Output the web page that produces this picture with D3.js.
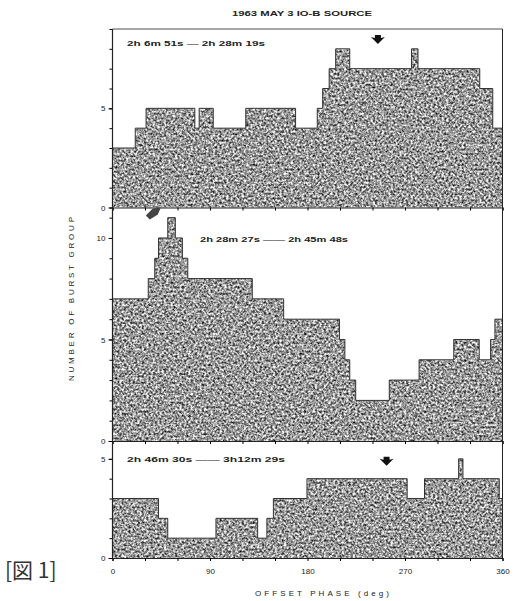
<!DOCTYPE html>
<html>
<head>
<meta charset="utf-8">
<script src="https://cdn.jsdelivr.net/npm/d3@7/dist/d3.min.js"></script>
<style>
  html, body { margin: 0; padding: 0; background: #fff; }
  svg { display: block; font-family: "Liberation Sans", "DejaVu Sans", sans-serif; }
</style>
</head>
<body>
<div id="chart"></div>
<script>
// phase bins (deg) and burst-group counts
const topEdges  = [0, 21, 31, 76, 80, 93, 123, 169, 189, 194, 200, 206, 219, 276, 282, 339, 351, 360];
const topCounts = [3, 4, 5, 4, 5, 4, 5, 4, 5, 6, 7, 8, 7, 8, 7, 6, 4];

const midEdges  = [0, 33, 39, 42.5, 51, 58, 64.5, 69.5, 129, 158, 209.5, 214.5, 219, 224.5, 255.5, 283, 315, 338.5, 349, 353, 360];
const midCounts = [7, 8, 9, 10, 11, 10, 9, 8, 7, 6, 5, 4, 3, 2, 3, 4, 5, 4, 5, 6];

const botEdges  = [0, 42.5, 51, 95.5, 134, 142.5, 148.5, 179.5, 272, 288, 319.5, 323.5, 357, 360];
const botCounts = [3, 2, 1, 2, 1, 2, 3, 4, 3, 4, 5, 4, 3];

const timeLabels = ["2h 6m 51s — 2h 28m 19s", "2h 28m 27s —— 2h 45m 48s", "2h 46m 30s —— 3h12m 29s"];
const phaseTicks = d3.range(0, 361, 30);
const phaseLabelTicks = [0, 90, 180, 270, 360];
// arrow marks: [phase, count]
const topArrow = [245, 8.45];
const midArrow = [40, 11.1];
const botArrow = [253, 4.85];

const width = 517, height = 601;
const svg = d3.select("#chart").append("svg")
  .attr("width", width)
  .attr("height", height);

// speckled fill like the printed stipple
const filt = svg.append("defs").append("filter")
  .attr("id", "speckle")
  .attr("x", 0).attr("y", 0).attr("width", "100%").attr("height", "100%")
  .attr("color-interpolation-filters", "sRGB");
filt.append("feTurbulence")
  .attr("type", "fractalNoise")
  .attr("baseFrequency", 0.45)
  .attr("numOctaves", 2)
  .attr("seed", 7)
  .attr("result", "noise");
filt.append("feColorMatrix")
  .attr("in", "noise")
  .attr("type", "matrix")
  .attr("values", "1.6 0 0 0 -0.2  1.6 0 0 0 -0.2  1.6 0 0 0 -0.2  0 0 0 0 1")
  .attr("result", "spk");
filt.append("feComposite")
  .attr("in", "spk")
  .attr("in2", "SourceGraphic")
  .attr("operator", "in");

const x = d3.scaleLinear().domain([0, 360]).range([112.5, 502.5]);

const panels = [
  { edges: topEdges, counts: topCounts, y: d3.scaleLinear().domain([0, 9]).range([207.5, 29]),
    ticks: [0, 5], label: timeLabels[0], lx: 127, ly: 46, lw: 138, arrow: topArrow, arrowDir: "down" },
  { edges: midEdges, counts: midCounts, y: d3.scaleLinear().domain([0, 11.5]).range([441, 207.5]),
    ticks: [0, 5, 10], label: timeLabels[1], lx: 200, ly: 242, lw: 148, arrow: midArrow, arrowDir: "diag" },
  { edges: botEdges, counts: botCounts, y: d3.scaleLinear().domain([0, 5.9]).range([558, 441]),
    ticks: [0, 5], label: timeLabels[2], lx: 127, ly: 462, lw: 158, arrow: botArrow, arrowDir: "down" }
];

panels.forEach(p => {
  const pts = p.edges.map((e, i) => ({ deg: e, n: p.counts[Math.min(i, p.counts.length - 1)] }));

  const area = d3.area()
    .curve(d3.curveStepAfter)
    .x(d => x(d.deg))
    .y0(p.y(0))
    .y1(d => p.y(d.n));
  const line = d3.line()
    .curve(d3.curveStepAfter)
    .x(d => x(d.deg))
    .y(d => p.y(d.n));

  svg.append("path")
    .datum(pts)
    .attr("d", area)
    .attr("fill", "#888")
    .attr("filter", "url(#speckle)");

  svg.append("path")
    .datum(pts)
    .attr("d", line)
    .attr("fill", "none")
    .attr("stroke", "#333")
    .attr("stroke-width", 1);

  // left axis: minor ticks every unit, labels at 0/5/10
  const yMax = Math.floor(p.y.domain()[1]);
  svg.append("g")
    .attr("transform", `translate(${x(0)},0)`)
    .call(d3.axisLeft(p.y).tickValues(d3.range(0, yMax + 1)).tickSize(3).tickFormat(""))
    .call(g => g.select(".domain").remove());
  svg.append("g")
    .attr("transform", `translate(${x(0)},0)`)
    .call(d3.axisLeft(p.y).tickValues(p.ticks).tickSize(4).tickPadding(3).tickFormat(d3.format("d")))
    .call(g => g.select(".domain").remove())
    .call(g => g.selectAll("text").attr("font-size", 8).attr("fill", "#222"));

  // phase ticks on each panel base
  svg.append("g")
    .attr("transform", `translate(0,${p.y(0)})`)
    .call(d3.axisBottom(x).tickValues(phaseTicks).tickSize(3).tickFormat(""))
    .call(g => g.select(".domain").attr("stroke", "#222").attr("stroke-width", 1.2));

  svg.append("text")
    .attr("x", p.lx)
    .attr("y", p.ly)
    .attr("textLength", p.lw)
    .attr("lengthAdjust", "spacingAndGlyphs")
    .attr("font-size", 7.5)
    .attr("font-weight", "bold")
    .attr("fill", "#222")
    .text(p.label);

  // arrow annotation
  const ax = x(p.arrow[0]), ay = p.y(p.arrow[1]);
  if (p.arrowDir === "down") {
    svg.append("path")
      .attr("d", `M${ax - 7},${ay - 3} L${ax - 3},${ay - 2} L${ax - 3},${ay - 5} L${ax + 3},${ay - 5} L${ax + 3},${ay - 2} L${ax + 7},${ay - 3} L${ax},${ay + 4} Z`)
      .attr("fill", "#111");
  } else {
    svg.append("path")
      .attr("d", `M${ax - 10},${ay} L${ax - 3},${ay - 7} L${ax + 5},${ay - 8} L${ax + 2},${ay - 1} L${ax - 6},${ay + 4} Z`)
      .attr("fill", "#444");
  }
});

// frame
const frame = svg.append("g").attr("stroke", "#222").attr("fill", "none");
frame.append("line").attr("x1", x(0)).attr("x2", x(0)).attr("y1", 29).attr("y2", 558).attr("stroke-width", 1.2);
frame.append("line").attr("x1", x(360)).attr("x2", x(360)).attr("y1", 29).attr("y2", 558).attr("stroke-width", 1);
frame.append("line").attr("x1", x(0)).attr("x2", x(360)).attr("y1", 29).attr("y2", 29).attr("stroke-width", 0.8);

// bottom phase labels
svg.append("g")
  .attr("transform", "translate(0,558)")
  .call(d3.axisBottom(x).tickValues(phaseLabelTicks).tickSize(0).tickPadding(10))
  .call(g => g.select(".domain").remove())
  .call(g => g.selectAll("text").attr("font-size", 8).attr("fill", "#222"));

svg.append("text")
  .attr("x", 302)
  .attr("y", 16)
  .attr("text-anchor", "middle")
  .attr("textLength", 140)
  .attr("lengthAdjust", "spacingAndGlyphs")
  .attr("font-size", 7.5)
  .attr("font-weight", "bold")
  .attr("fill", "#222")
  .text("1963 MAY 3 IO-B SOURCE");

svg.append("text")
  .attr("x", 255)
  .attr("y", 596)
  .attr("textLength", 134)
  .attr("lengthAdjust", "spacing")
  .attr("font-size", 8)
  .attr("fill", "#222")
  .text("OFFSET PHASE  (deg)");

svg.append("text")
  .attr("transform", "translate(74,299) rotate(-90)")
  .attr("text-anchor", "middle")
  .attr("textLength", 164)
  .attr("lengthAdjust", "spacing")
  .attr("font-size", 8)
  .attr("fill", "#222")
  .text("NUMBER OF BURST GROUP");

svg.append("text")
  .attr("x", 5)
  .attr("y", 578)
  .attr("font-family", "Noto Sans CJK JP")
  .attr("font-size", 21)
  .attr("fill", "#333")
  .text("[図 1]");
</script>
</body>
</html>
